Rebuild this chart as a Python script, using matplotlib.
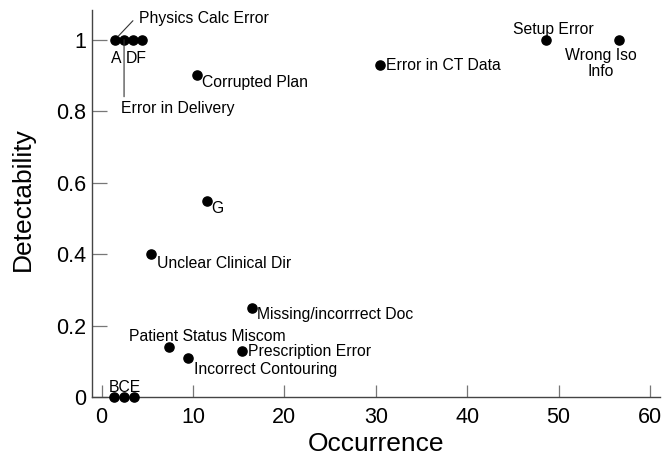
import matplotlib
matplotlib.use("Agg")
import matplotlib.pyplot as plt

# error modes: occurrence vs detectability
names = ["A", "Error in Delivery", "D", "F", "Corrupted Plan", "Error in CT Data",
         "Setup Error", "Wrong Iso\nInfo", "G", "Unclear Clinical Dir",
         "Missing/incorrrect Doc", "Patient Status Miscom", "Incorrect Contouring",
         "Prescription Error", "B", "C", "E"]
occurrence = [1.45, 2.45, 3.45, 4.4, 10.4, 30.5, 48.6, 56.6, 11.5, 5.4,
              16.4, 7.4, 9.4, 15.4, 1.4, 2.45, 3.5]
detectability = [1.0, 1.0, 1.0, 1.0, 0.90, 0.93, 1.0, 1.0, 0.55, 0.40,
                 0.25, 0.14, 0.11, 0.13, 0.0, 0.0, 0.0]

x_ticks = [0, 10, 20, 30, 40, 50, 60]
y_ticks = [0, 0.2, 0.4, 0.6, 0.8, 1.0]
y_tick_labels = ["0", "0.2", "0.4", "0.6", "0.8", "1"]

# label placement: (dx px, dy px, ha, text) relative to the point;
# the letter groups "DF" and "BCE" are drawn once as a single string
placement = {
    "A": (1, -23, "center", "A"),
    "Error in Delivery": (-3, -73.5, "left", "Error in Delivery"),
    "D": (3, -23, "center", "DF"),
    "Corrupted Plan": (5, -11.5, "left", "Corrupted Plan"),
    "Error in CT Data": (5.3, -5, "left", "Error in CT Data"),
    "Setup Error": (7.3, 6, "center", "Setup Error"),
    "G": (5, -12.6, "left", "G"),
    "Unclear Clinical Dir": (5.7, -13.4, "left", "Unclear Clinical Dir"),
    "Missing/incorrrect Doc": (5.3, -11.6, "left", "Missing/incorrrect Doc"),
    "Patient Status Miscom": (37.7, 5.6, "center", "Patient Status Miscom"),
    "Incorrect Contouring": (6.3, -16, "left", "Incorrect Contouring"),
    "Prescription Error": (5.3, -5.3, "left", "Prescription Error"),
    "C": (1, 5.5, "center", "BCE"),
}

plt.rcParams["font.family"] = ["Liberation Sans", "DejaVu Sans"]
fs = 11.3

fig = plt.figure(figsize=(6.68, 4.66), dpi=100)
ax = fig.add_axes([0.1377, 0.148, 0.850, 0.830])

ax.plot(occurrence, detectability, "o", color="black", markersize=6.6,
        clip_on=False, zorder=3)

for name, x, y in zip(names, occurrence, detectability):
    if name == "Wrong Iso\nInfo":
        ax.annotate(name, (x, y), xytext=(-18, -23.5), textcoords="offset pixels",
                    ha="center", va="center", fontsize=fs, linespacing=1.08,
                    multialignment="center")
        continue
    if name not in placement:
        continue
    dx, dy, ha, text = placement[name]
    ax.annotate(text, (x, y), xytext=(dx, dy), textcoords="offset pixels",
                ha=ha, va="baseline", fontsize=fs)

# leader lines for the crowded cluster at top left
ax.annotate("", (occurrence[0], detectability[0]), xytext=(18, 19),
            textcoords="offset pixels",
            arrowprops=dict(arrowstyle="-", color="#333333", lw=0.8,
                            shrinkA=0, shrinkB=3.6))
ax.annotate("Physics Calc Error", (occurrence[0], detectability[0]), xytext=(24, 16.5),
            textcoords="offset pixels", ha="left", va="baseline", fontsize=fs)
ax.annotate("", (occurrence[1], detectability[1]), xytext=(0, -57),
            textcoords="offset pixels",
            arrowprops=dict(arrowstyle="-", color="#333333", lw=0.8,
                            shrinkA=0, shrinkB=0))

ax.set_xlim(-1.06, 61.08)
ax.set_ylim(0, 1.0825)
ax.set_xticks(x_ticks)
ax.set_yticks(y_ticks)
ax.set_yticklabels(y_tick_labels)

ax.spines["top"].set_visible(False)
ax.spines["right"].set_visible(False)
for side in ("left", "bottom"):
    ax.spines[side].set_color("#444444")
    ax.spines[side].set_linewidth(1.0)

ax.tick_params(axis="both", direction="in", colors="#777777", labelcolor="black",
               labelsize=15.5, width=0.9)
ax.tick_params(axis="y", length=11, pad=4)
ax.tick_params(axis="x", length=8.5, pad=7)

ax.set_xlabel("Occurrence", fontsize=19, va="center")
ax.set_ylabel("Detectability", fontsize=19, va="center")
ax.xaxis.set_label_coords(0.5, -0.121)
ax.yaxis.set_label_coords(-0.121, 0.512)

fig.savefig("out.png", dpi=100)
